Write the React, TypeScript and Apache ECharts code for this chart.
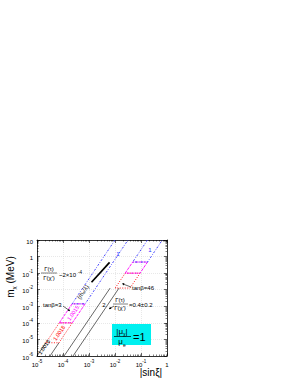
import React, { useEffect, useRef } from "react";
import * as echarts from "echarts";

// |sin xi| (x) vs m_chi in MeV (y), log-log
const xRange = [1e-5, 1];
const yRange = [1e-6, 10];

// tan beta = 3 band
const aBlackL = [[1e-5, 1e-6], [2.2e-5, 6.3e-6]];
const aBlackR = [[3.16e-5, 1e-6], [7e-5, 6.3e-6]];
const aRed = [[2.2e-5, 6.3e-6], [7.2e-5, 1e-4], [2.28e-4, 1e-4], [7e-5, 6.3e-6], [2.2e-5, 6.3e-6]];
const aMagenta = [[7.2e-5, 1e-4], [2.24e-4, 1.4e-3], [7.1e-4, 1.4e-3], [2.28e-4, 1e-4], [7.2e-5, 1e-4]];
const aBlue = [[1e-2, 10], [2.24e-4, 1.4e-3], [7.1e-4, 1.4e-3], [3.16e-2, 10]];
const aThick = [[1.25e-3, 0.028], [6.2e-3, 0.45]];

// tan beta = 46 band
const bBlackL = [[1.1e-4, 1e-6], [6.5e-3, 0.0126]];
const bBlackR = [[2.43e-4, 1e-6], [0.0143, 0.0126]];
const bRed = [[0.0102, 0.0126], [0.0247, 0.1], [0.0918, 0.1], [0.0378, 0.0126], [0.0102, 0.0126]];
const bMagenta = [[0.0247, 0.1], [0.0479, 0.468], [0.178, 0.468], [0.0918, 0.1], [0.0247, 0.1]];
const bBlue = [[0.178, 10], [0.0479, 0.468], [0.178, 0.468], [0.66, 10]];

const FONT = "Liberation Sans, Arial, sans-serif";

const fmt = (v: number) => {
  const e = Math.round(Math.log10(v));
  if (e === 0) return "{b|1}";
  if (e === 1) return "{b|10}";
  return `{b|10}{s|${e}}`;
};

const rich = {
  b: { fontSize: 6, fontFamily: FONT, color: "#000", lineHeight: 9, verticalAlign: "bottom" },
  s: { fontSize: 4.5, fontFamily: FONT, color: "#000", lineHeight: 9, verticalAlign: "top" },
};

function lineSeries(data: number[][], color: string, type: any, width = 0.8) {
  return {
    type: "line",
    data,
    showSymbol: false,
    symbol: "none",
    silent: true,
    lineStyle: { color, type, width },
    z: 3,
  };
}

const ROT = (56 * Math.PI) / 180;

function txt(x: number, y: number, text: string, size: number, extra: any = {}) {
  return {
    type: "text",
    x,
    y,
    z: 20,
    style: {
      text,
      fontSize: size,
      fontFamily: FONT,
      fill: "#000",
      align: "center",
      verticalAlign: "middle",
      ...extra,
    },
  };
}

function ln(x1: number, y1: number, x2: number, y2: number, color = "#000", w = 0.6) {
  return { type: "line", z: 20, shape: { x1, y1, x2, y2 }, style: { stroke: color, lineWidth: w } };
}

function arrowHead(x: number, y: number, ang: number) {
  const s = 2.5;
  const a1 = ang + 2.6;
  const a2 = ang - 2.6;
  return {
    type: "polygon",
    z: 20,
    shape: {
      points: [
        [x, y],
        [x + s * Math.cos(a1), y + s * Math.sin(a1)],
        [x + s * Math.cos(a2), y + s * Math.sin(a2)],
      ],
    },
    style: { fill: "#000" },
  };
}

export default function App() {
  const ref = useRef<HTMLDivElement>(null);
  useEffect(() => {
    if (!ref.current) return;
    const chart = echarts.init(ref.current, undefined, { renderer: "svg" });
    const axisCommon = {
      type: "log",
      logBase: 10,
      axisLine: { show: true, lineStyle: { color: "#000", width: 0.8 } },
      axisTick: { show: true, inside: true, length: 3, lineStyle: { color: "#000", width: 0.6 } },
      minorTick: { show: true, splitNumber: 9, length: 1.5, lineStyle: { color: "#000", width: 0.5 } },
      splitLine: { show: true, lineStyle: { color: "#d0d0d0", width: 0.5, type: [1, 1] } },
    };
    const option: any = {
      animation: false,
      backgroundColor: "#fff",
      grid: { left: 37, top: 240, width: 130, height: 116, containLabel: false },
      xAxis: [
        {
          ...axisCommon,
          min: xRange[0],
          max: xRange[1],
          position: "bottom",
          axisLabel: { formatter: fmt, rich, margin: 3 },
        },
        {
          ...axisCommon,
          min: xRange[0],
          max: xRange[1],
          position: "top",
          splitLine: { show: false },
          axisLabel: { show: false },
        },
      ],
      yAxis: [
        {
          ...axisCommon,
          min: yRange[0],
          max: yRange[1],
          position: "left",
          axisLabel: { formatter: fmt, rich, margin: 4 },
        },
        {
          ...axisCommon,
          min: yRange[0],
          max: yRange[1],
          position: "right",
          splitLine: { show: false },
          axisLabel: { show: false },
        },
      ],
      series: [
        lineSeries(aBlackL, "#000", "solid", 0.6),
        lineSeries(aBlackR, "#000", "solid", 0.6),
        lineSeries(aRed, "#ff0000", [1, 1.5], 0.9),
        lineSeries(aMagenta, "#ff00ff", [3, 1], 0.9),
        lineSeries(aBlue, "#3030ff", [2, 1.5, 0.8, 1.5], 0.9),
        lineSeries(aThick, "#000", "solid", 1.7),
        lineSeries(bBlackL, "#000", "solid", 0.6),
        lineSeries(bBlackR, "#000", "solid", 0.6),
        lineSeries(bRed, "#ff0000", [1, 1.5], 0.9),
        lineSeries(bMagenta, "#ff00ff", [3, 1], 0.9),
        lineSeries(bBlue, "#3030ff", [2, 1.5, 0.8, 1.5], 0.9),
      ],
      graphic: [
        // y title
        {
          type: "text",
          x: 10,
          y: 277,
          rotation: Math.PI / 2,
          z: 20,
          style: {
            text: "m{sub|χ} (MeV)",
            fontSize: 10,
            fontFamily: FONT,
            fill: "#000",
            align: "center",
            verticalAlign: "middle",
            rich: {
              sub: { fontSize: 6, fontFamily: FONT, verticalAlign: "bottom", lineHeight: 14 },
            },
          },
        },
        // x title
        txt(151, 372, "|sinξ|", 10),
        // band labels
        { ...txt(44, 347, "1.0018", 5.5), rotation: ROT },
        { ...txt(59, 333, "1.0018", 5.5, { fill: "#ff0000" }), rotation: ROT },
        { ...txt(73, 313, "1.0015", 5.5, { fill: "#ff00ff" }), rotation: ROT },
        { ...txt(83, 292, "(mₑ/λ)", 6), rotation: ROT },
        txt(118, 254, "1", 6, { fill: "#3030ff" }),
        txt(150, 250, "1", 6, { fill: "#3030ff" }),
        // Gamma ratio ~ 2e-4
        txt(49, 269, "Γ(τ)", 6),
        ln(41, 273, 57, 273, "#000", 0.5),
        txt(49, 278, "Γ(χ')", 6),
        txt(59, 275, "~2×10", 6, { align: "left" }),
        txt(78, 272, "-4", 4.5, { align: "left" }),
        // tan beta = 3
        txt(43, 305, "tanβ=3", 6, { align: "left" }),
        ln(63, 306, 70, 311),
        arrowHead(70, 311, Math.atan2(5, 7)),
        // tan beta = 46
        txt(132, 288, "tanβ=46", 6, { align: "left" }),
        ln(131, 287, 123, 284),
        arrowHead(122, 283.6, Math.atan2(-3, -9)),
        // 0.4 +- 0.2
        txt(104, 305, "2", 6),
        ln(114, 306, 109, 309),
        arrowHead(109, 309, Math.atan2(3, -5)),
        txt(120, 300, "Γ(τ)", 6),
        ln(113, 304, 128, 304, "#000", 0.5),
        txt(120, 308, "Γ(χ')", 6),
        txt(129, 305, "=0.4±0.2", 6, { align: "left" }),
        // cyan box
        { type: "rect", z: 15, shape: { x: 112, y: 324, width: 39, height: 21 }, style: { fill: "#00f0f0" } },
        {
          type: "text",
          x: 122,
          y: 331,
          z: 20,
          style: {
            text: "|μ{sub|χ}|",
            fontSize: 8,
            fontFamily: FONT,
            fill: "#000",
            align: "center",
            verticalAlign: "middle",
            rich: { sub: { fontSize: 5, fontFamily: FONT, verticalAlign: "bottom", lineHeight: 11 } },
          },
        },
        ln(114, 336.5, 131, 336.5, "#000", 0.7),
        {
          type: "text",
          x: 122,
          y: 341.5,
          z: 20,
          style: {
            text: "μ{sub|e}",
            fontSize: 8,
            fontFamily: FONT,
            fill: "#000",
            align: "center",
            verticalAlign: "middle",
            rich: { sub: { fontSize: 5, fontFamily: FONT, verticalAlign: "bottom", lineHeight: 11 } },
          },
        },
        txt(133, 337, "=1", 11, { align: "left" }),
      ],
    };
    chart.setOption(option);
    return () => chart.dispose();
  }, []);
  return (
    <div
      ref={ref}
      style={{ position: "fixed", left: 0, top: 0, width: 295, height: 382, background: "#fff" }}
    />
  );
}
